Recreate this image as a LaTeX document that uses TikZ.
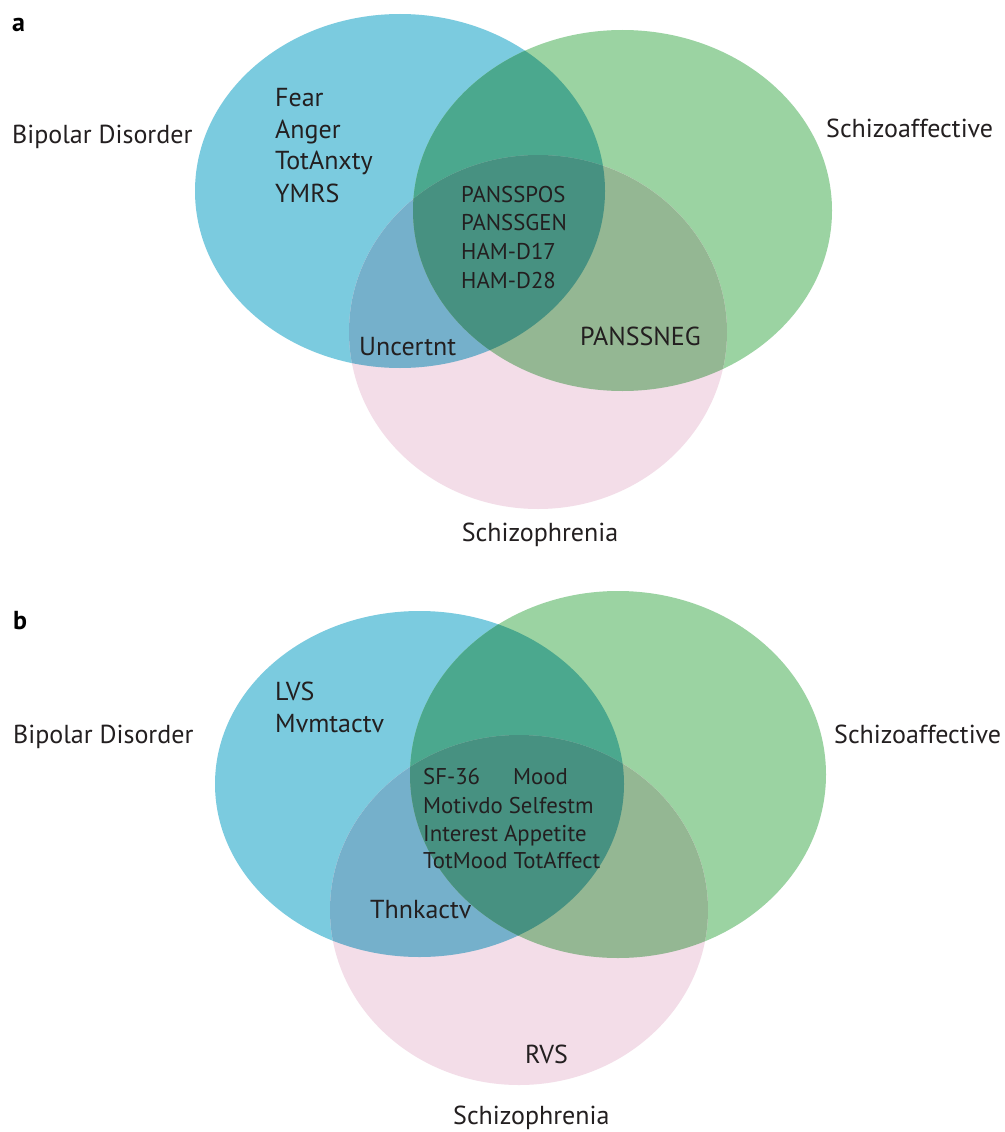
\documentclass[tikz,border=0pt]{standalone}
\usepackage{fontspec}
\setmainfont{PT Sans}
\definecolor{cB}{RGB}{123,203,223}
\definecolor{cG}{RGB}{155,211,162}
\definecolor{cP}{RGB}{243,221,232}
\definecolor{cBG}{RGB}{75,168,142}
\definecolor{cBP}{RGB}{117,176,203}
\definecolor{cGP}{RGB}{148,183,147}
\definecolor{cBGP}{RGB}{71,145,129}
\definecolor{txt}{RGB}{35,31,32}
\def\ellBa{(400,191) ellipse [x radius=205, y radius=177]}
\def\ellGa{(622.5,210.5) ellipse [x radius=209.5, y radius=180.5]}
\def\ellPa{(538,332) ellipse [x radius=189, y radius=177]}
\def\ellBb{(419.5,784) ellipse [x radius=204.5, y radius=173]}
\def\ellGb{(618,774.5) ellipse [x radius=208, y radius=183.5]}
\def\ellPb{(519,910) ellipse [x radius=189, y radius=175]}
\begin{document}
\begin{tikzpicture}[x=1pt,y=-1pt,
  lbl/.style={anchor=base west, inner sep=0pt, text=txt, font=\fontsize{26}{26}\selectfont},
  sml/.style={anchor=base west, inner sep=0pt, text=txt, font=\fontsize{22.8}{22.8}\selectfont},
  panel/.style={anchor=base west, inner sep=0pt, text=black, font=\fontsize{26}{26}\selectfont\bfseries}]
\useasboundingbox (0,0) rectangle (1004,1132);
\fill[white] (0,0) rectangle (1004,1132);
% ---------- panel a ----------
\fill[cB] \ellBa;
\fill[cG] \ellGa;
\fill[cP] \ellPa;
\begin{scope}\clip \ellBa; \fill[cBG] \ellGa; \end{scope}
\begin{scope}\clip \ellBa; \fill[cBP] \ellPa; \end{scope}
\begin{scope}\clip \ellGa; \fill[cGP] \ellPa; \end{scope}
\begin{scope}\clip \ellBa; \clip \ellGa; \fill[cBGP] \ellPa; \end{scope}
% ---------- panel b ----------
\fill[cB] \ellBb;
\fill[cG] \ellGb;
\fill[cP] \ellPb;
\begin{scope}\clip \ellBb; \fill[cBG] \ellGb; \end{scope}
\begin{scope}\clip \ellBb; \fill[cBP] \ellPb; \end{scope}
\begin{scope}\clip \ellGb; \fill[cGP] \ellPb; \end{scope}
\begin{scope}\clip \ellBb; \clip \ellGb; \fill[cBGP] \ellPb; \end{scope}
% ---------- texts a ----------
\node[panel] (pa) at (12,32) {a};
\node[lbl] (bda) at (12,143) {Bipolar Disorder};
\node[lbl] (saa) at (826,137) {Schizoaffective};
\node[lbl, anchor=base] (sza) at (540,541) {Schizophrenia};
\node[lbl] (fear) at (275,106) {Fear};
\node[lbl] (anger) at (275,138) {Anger};
\node[lbl] (totanx) at (275,169) {TotAnxty};
\node[lbl] (ymrs) at (275,202) {YMRS};
\node[sml] (ppos) at (461,202) {PANSSPOS};
\node[sml] (pgen) at (461,230) {PANSSGEN};
\node[sml] (hd17) at (461,259) {HAM-D17};
\node[sml] (hd28) at (461,288) {HAM-D28};
\node[lbl] (unc) at (359,355) {Uncertnt};
\node[lbl] (pneg) at (580,345) {PANSSNEG};
% ---------- texts b ----------
\node[panel] (pb) at (13,629) {b};
\node[lbl] (bdb) at (13,743) {Bipolar Disorder};
\node[lbl] (sab) at (834,743) {Schizoaffective};
\node[lbl] (szb) at (453,1124) {Schizophrenia};
\node[lbl] (lvs) at (275,700) {LVS};
\node[lbl] (mvm) at (275,732) {Mvmtactv};
\node[sml] (sf) at (423,784) {SF-36};
\node[sml] (mood) at (513,784) {Mood};
\node[sml] (l2) at (423,813) {Motivdo Selfestm};
\node[sml] (l3) at (423,841) {Interest Appetite};
\node[sml] (l4) at (423,868) {TotMood TotAffect};
\node[lbl] (thk) at (370,918) {Thnkactv};
\node[lbl] (rvs) at (525,1063) {RVS};
\end{tikzpicture}
\end{document}
